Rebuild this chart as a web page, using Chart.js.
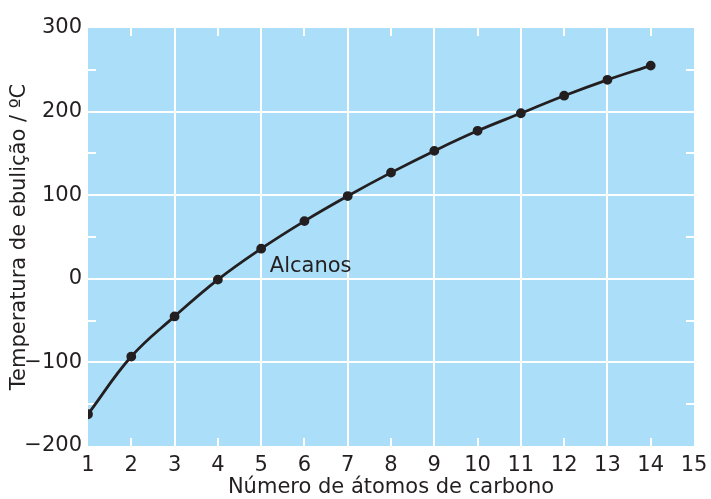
<!DOCTYPE html>
<html>
<head>
<meta charset="utf-8">
<script src="https://cdn.jsdelivr.net/npm/chart.js@4"></script>
<style>
  html, body { margin: 0; padding: 0; background: #ffffff; }
  #wrap { width: 711px; height: 499px; }
</style>
</head>
<body>
<div id="wrap"><canvas id="c" width="711" height="499"></canvas></div>
<script>
// Boiling points of the straight-chain alkanes (C1..C14)
const carbonAtoms = [1, 2, 3, 4, 5, 6, 7, 8, 9, 10, 11, 12, 13, 14];
const boilingPoints = [-162, -93, -45, -1, 36, 69, 99, 127, 153, 177, 198, 219, 238, 255];
const xTicks = [1, 2, 3, 4, 5, 6, 7, 8, 9, 10, 11, 12, 13, 14, 15];
const yTicks = [-200, -100, 0, 100, 200, 300];
const yMinorTicks = [-150, -50, 50, 150, 250];
const seriesLabel = 'Alcanos';
const seriesLabelPos = { x: 5.2, y: 15 };

const INK = '#231f20';
const PANEL = '#abdff9';
const FONT = 'Verdana, "DejaVu Sans", sans-serif';

const panelPlugin = {
  id: 'panel',
  beforeDraw(chart) {
    const { ctx, chartArea: a } = chart;
    ctx.save();
    ctx.fillStyle = PANEL;
    ctx.fillRect(a.left, a.top, a.right - a.left, a.bottom - a.top);
    ctx.restore();
  },
  beforeDatasetsDraw(chart) {
    // short white inner ticks: even x values on top/bottom, half-hundreds on left/right
    const { ctx, chartArea: a, scales: { x, y } } = chart;
    const len = 8;
    ctx.save();
    ctx.strokeStyle = '#ffffff';
    ctx.lineWidth = 2;
    ctx.beginPath();
    xTicks.filter(v => v % 2 === 0).forEach(v => {
      const px = Math.round(x.getPixelForValue(v));
      ctx.moveTo(px, a.top); ctx.lineTo(px, a.top + len);
      ctx.moveTo(px, a.bottom); ctx.lineTo(px, a.bottom - len);
    });
    yMinorTicks.forEach(v => {
      const py = Math.round(y.getPixelForValue(v));
      ctx.moveTo(a.left, py); ctx.lineTo(a.left + len, py);
      ctx.moveTo(a.right, py); ctx.lineTo(a.right - len, py);
    });
    ctx.stroke();
    ctx.restore();
  },
  afterDatasetsDraw(chart) {
    const { ctx, scales: { x, y } } = chart;
    ctx.save();
    ctx.fillStyle = INK;
    ctx.font = '21px ' + FONT;
    ctx.textAlign = 'left';
    ctx.textBaseline = 'middle';
    ctx.fillText(seriesLabel, x.getPixelForValue(seriesLabelPos.x), y.getPixelForValue(seriesLabelPos.y));
    ctx.restore();
  }
};

const fmt = v => String(v).replace('-', '\u2212');

new Chart(document.getElementById('c'), {
  type: 'scatter',
  data: {
    datasets: [{
      label: seriesLabel,
      data: carbonAtoms.map((c, i) => ({ x: c, y: boilingPoints[i] })),
      showLine: true,
      borderColor: INK,
      backgroundColor: INK,
      borderWidth: 2.8,
      pointRadius: 3.5,
      pointHoverRadius: 3.5,
      tension: 0.4
    }]
  },
  options: {
    responsive: false,
    animation: false,
    events: [],
    layout: { padding: { left: 0, right: 17, top: 28, bottom: 0 } },
    plugins: { legend: { display: false }, tooltip: { enabled: false } },
    scales: {
      x: {
        type: 'linear',
        min: 1, max: 15,
        afterFit(s) { s.height = 53; s.paddingRight = 0; s.paddingLeft = 0; },
        afterBuildTicks(s) { s.ticks = xTicks.map(v => ({ value: v })); },
        border: { display: false },
        grid: {
          drawTicks: false,
          lineWidth: 2,
          color: c => (c.tick && c.tick.value % 2 === 1 && c.tick.value > 1 && c.tick.value < 15) ? '#ffffff' : 'rgba(0,0,0,0)'
        },
        ticks: { color: INK, padding: 7, font: { family: FONT, size: 21 }, maxRotation: 0, autoSkip: false },
        title: {
          display: true,
          text: 'Número de átomos de carbono',
          color: INK,
          font: { family: FONT, size: 21 },
          padding: { top: 0, bottom: -1 }
        }
      },
      y: {
        type: 'linear',
        min: -200, max: 300,
        afterFit(s) { s.width = 88; s.paddingTop = 0; s.paddingBottom = 0; },
        afterBuildTicks(s) { s.ticks = yTicks.map(v => ({ value: v })); },
        border: { display: false },
        grid: {
          drawTicks: false,
          lineWidth: 2,
          color: c => (c.tick && c.tick.value > -200 && c.tick.value < 300) ? '#ffffff' : 'rgba(0,0,0,0)'
        },
        ticks: { color: INK, padding: 6, font: { family: FONT, size: 21 }, callback: v => fmt(v) },
        title: {
          display: true,
          text: 'Temperatura de ebulição / ºC',
          color: INK,
          font: { family: FONT, size: 21 },
          padding: { top: 7, bottom: 0 }
        }
      }
    }
  },
  plugins: [panelPlugin]
});
</script>
</body>
</html>
